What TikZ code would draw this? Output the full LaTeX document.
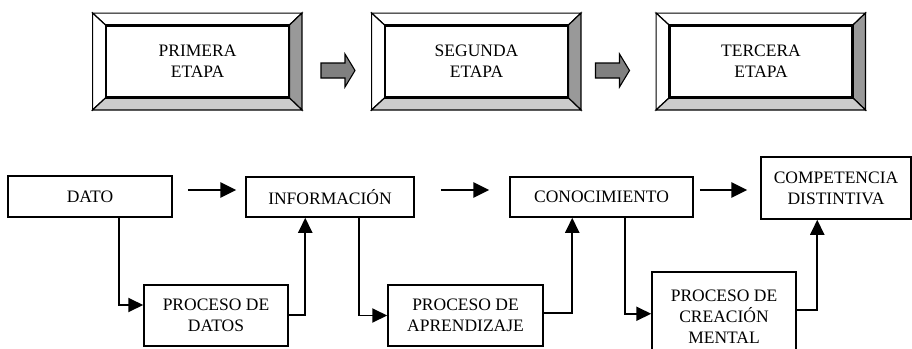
\documentclass[tikz,border=0pt]{standalone}
\usepackage{fontspec}
\setmainfont{Liberation Serif}
\usetikzlibrary{calc,arrows.meta}
\begin{document}
\begin{tikzpicture}[x=1pt,y=-1pt,
  txt/.style={font=\fontsize{17.5}{21}\selectfont, align=center, inner sep=0pt},
  stagebox/.style={txt, draw, line width=1.8pt, minimum width=182pt, minimum height=71pt},
  flowbox/.style={txt, draw, line width=1.5pt},
  bevel/.style={draw, line width=1.2pt, line join=miter},
  conn/.style={line width=1.9pt, -{Triangle[length=15pt,width=14pt]}},
  bigarr/.style={line width=2.8pt, -{Triangle[length=16pt,width=15pt]}},
  grayarrow/.style={draw, fill=gray, line width=1.1pt, line join=miter}
]
\useasboundingbox (0,0) rectangle (912,348);

% --- stage boxes ---
\foreach \n/\cx/\t in {s1/197.5/PRIMERA\\ETAPA, s2/476.5/SEGUNDA\\ETAPA, s3/761/TERCERA\\ETAPA}{
  \node[stagebox] (\n) at (\cx,61.5) {\t};
  \coordinate (\n-onw) at ($(\n.north west)+(-13,-12)$);
  \coordinate (\n-one) at ($(\n.north east)+(12.5,-12)$);
  \coordinate (\n-osw) at ($(\n.south west)+(-13,12)$);
  \coordinate (\n-ose) at ($(\n.south east)+(12.5,12)$);
  \path[bevel, fill=white] (\n-onw) -- (\n-one) -- (\n.north east) -- (\n.north west) -- cycle;
  \path[bevel, fill=white] (\n-onw) -- (\n-osw) -- (\n.south west) -- (\n.north west) -- cycle;
  \path[bevel, fill=gray!80] (\n-one) -- (\n-ose) -- (\n.south east) -- (\n.north east) -- cycle;
  \path[bevel, fill=gray!40] (\n-osw) -- (\n-ose) -- (\n.south east) -- (\n.south west) -- cycle;
  \draw[line width=1.8pt] (\n.north west) rectangle (\n.south east);
}

% --- gray arrows between stages ---
\coordinate (g1) at (338,70.5);
\coordinate (g2) at (612.5,70.5);
\foreach \g in {g1,g2}{
  \path[grayarrow, shift={(\g)}] (-17,-7.5) -- (7,-7.5) -- (7,-16.5) -- (17,0) -- (7,16.5) -- (7,7.5) -- (-17,7.5) -- cycle;
}

% --- bottom flow ---
\node[flowbox, minimum width=164pt, minimum height=41pt] (dato) at (90,196.5) {DATO};
\node[flowbox, minimum width=168pt, minimum height=40pt] (info) at (330,197) {INFORMACIÓN};
\node[flowbox, minimum width=183pt, minimum height=40pt] (conoc) at (601.5,197) {CONOCIMIENTO};
\node[flowbox, minimum width=150pt, minimum height=62pt] (comp) at (836,188) {COMPETENCIA\\DISTINTIVA};
\node[flowbox, minimum width=144pt, minimum height=61pt] (pdd) at (216,315.5) {PROCESO DE\\DATOS};
\node[flowbox, minimum width=155pt, minimum height=61pt] (pda) at (465.5,315.5) {PROCESO DE\\APRENDIZAJE};
\node[flowbox, minimum width=144pt, minimum height=90pt, anchor=north] (pcm) at (724,271) {PROCESO DE\\CREACIÓN\\MENTAL};

% horizontal arrows
\draw[bigarr] ($(dato.east)+(15,-6.5)$) -- ($(info.west)+(-9,-7)$);
\draw[bigarr] ($(info.east)+(26,-7)$) -- ($(conoc.west)+(-20,-7)$);
\draw[bigarr] ($(conoc.east)+(6,-7)$) -- ($(comp.west)+(-13,2)$);

% process loops
\draw[conn] ($(dato.south west)+(112,0)$) |- ($(pdd.west)+(0,-10.5)$);
\draw[conn] ($(pdd.east)+(0,-0.5)$) -| ($(info.south west)+(60,0)$);
\draw[conn] ($(info.south west)+(114,0)$) |- (pda.west);
\draw[conn] ($(pda.east)+(0,-2.5)$) -| ($(conoc.south west)+(63,0)$);
\draw[conn] ($(conoc.south west)+(116,0)$) |- ($(pcm.west)+(0,-3)$);
\draw[conn] ($(pcm.east)+(0,-7)$) -| ($(comp.south west)+(57,0)$);
\end{tikzpicture}
\end{document}
